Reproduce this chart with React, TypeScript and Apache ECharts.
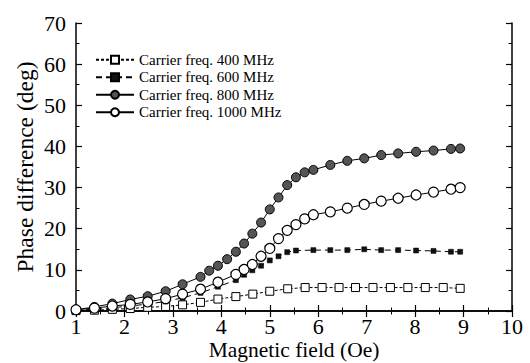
import React, { useEffect, useRef } from "react";
import * as echarts from "echarts";

// Magnetic field (Oe) and phase difference (deg) for each carrier frequency
const field400 = [1.0, 1.38, 1.75, 2.12, 2.48, 2.85, 3.2, 3.57, 3.93, 4.3, 4.65, 5.0, 5.37, 5.73, 6.08, 6.43, 6.77, 7.13, 7.49, 7.85, 8.21, 8.58, 8.93];
const phase400 = [0.1, 0.2, 0.4, 0.6, 0.9, 1.1, 1.5, 2.1, 2.9, 3.5, 4.1, 4.8, 5.4, 5.7, 5.7, 5.7, 5.7, 5.7, 5.7, 5.7, 5.7, 5.7, 5.5];

const field600 = [1.0, 1.38, 1.75, 2.12, 2.48, 2.85, 3.2, 3.57, 3.93, 4.3, 4.47, 4.64, 4.82, 5.0, 5.18, 5.36, 5.54, 5.9, 6.25, 6.6, 6.95, 7.3, 7.65, 8.02, 8.38, 8.74, 8.93];
const phase600 = [0.2, 0.4, 0.8, 1.2, 1.7, 2.3, 3.2, 4.4, 5.9, 7.5, 8.8, 9.9, 11.0, 12.3, 13.3, 14.3, 14.7, 14.8, 14.8, 14.8, 15.0, 14.8, 14.8, 14.7, 14.6, 14.4, 14.4];

const field800 = [1.0, 1.38, 1.75, 2.12, 2.48, 2.85, 3.2, 3.57, 3.75, 3.93, 4.12, 4.3, 4.47, 4.64, 4.82, 5.0, 5.18, 5.36, 5.54, 5.72, 5.9, 6.25, 6.6, 6.95, 7.3, 7.65, 8.02, 8.38, 8.74, 8.93];
const phase800 = [0.3, 1.0, 1.8, 2.8, 3.6, 4.8, 6.5, 8.3, 9.8, 11.0, 12.6, 14.4, 16.4, 18.8, 21.5, 24.7, 27.6, 30.6, 32.5, 33.7, 34.3, 35.5, 36.5, 37.1, 37.9, 38.3, 38.7, 39.0, 39.4, 39.5];

const field1000 = [1.0, 1.38, 1.75, 2.12, 2.48, 2.85, 3.2, 3.57, 3.93, 4.3, 4.47, 4.64, 4.82, 5.0, 5.18, 5.36, 5.54, 5.72, 5.9, 6.25, 6.6, 6.95, 7.3, 7.65, 8.02, 8.38, 8.74, 8.93];
const phase1000 = [0.3, 0.7, 1.2, 1.6, 2.2, 3.0, 4.1, 5.3, 7.0, 8.9, 10.1, 11.3, 13.3, 15.2, 17.6, 19.6, 21.0, 22.4, 23.4, 24.1, 25.0, 25.9, 26.7, 27.4, 28.2, 28.9, 29.6, 30.0];

const seriesNames = [
  "Carrier freq. 400 MHz",
  "Carrier freq. 600 MHz",
  "Carrier freq. 800 MHz",
  "Carrier freq. 1000 MHz",
];

const xTitle = "Magnetic field (Oe)";
const yTitle = "Phase difference (deg)";

const xMin = 1;
const xMax = 10;
const yMin = 0;
const yMax = 70;

const FONT = "Liberation Serif";

const pairs = (xs: number[], ys: number[]) => xs.map((x, i) => [x, ys[i]]);

export default function App() {
  const ref = useRef<HTMLDivElement>(null);

  useEffect(() => {
    if (!ref.current) return;
    const chart = echarts.init(ref.current, undefined, { renderer: "svg" });

    const axisLine = { show: true, lineStyle: { color: "#000", width: 1.5 } };
    const tick = { show: true, inside: true, length: 6, lineStyle: { color: "#000", width: 1.2 } };
    const minor = { show: true, splitNumber: 2, length: 3.5, lineStyle: { color: "#000", width: 1 } };
    const tickFont = { fontFamily: FONT, fontSize: 22, color: "#000" };
    const xNameFont = { fontFamily: FONT, fontSize: 21.5, color: "#000" };
    const yNameFont = { fontFamily: FONT, fontSize: 23.5, color: "#000" };

    chart.setOption({
      animation: false,
      backgroundColor: "#fff",
      textStyle: { fontFamily: FONT, color: "#000" },
      grid: { left: 76, right: 18, top: 23, bottom: 52, containLabel: false, outerBoundsMode: "none" },
      legend: {
        show: true,
        orient: "vertical",
        left: 95,
        top: 51,
        padding: 0,
        itemWidth: 38,
        itemHeight: 10,
        itemGap: 0,
        data: seriesNames,
        textStyle: { fontFamily: FONT, fontSize: 15, lineHeight: 17.5, color: "#000" },
      },
      xAxis: [
        {
          type: "value",
          min: xMin,
          max: xMax,
          interval: 1,
          position: "bottom",
          name: xTitle,
          nameLocation: "middle",
          nameGap: 28,
          nameMoveOverlap: false,
          nameTextStyle: xNameFont,
          axisLine,
          axisTick: tick,
          minorTick: minor,
          splitLine: { show: false },
          axisLabel: { ...tickFont, margin: 4 },
        },
        {
          type: "value",
          min: xMin,
          max: xMax,
          interval: 1,
          position: "top",
          axisLine,
          axisTick: tick,
          minorTick: minor,
          splitLine: { show: false },
          axisLabel: { show: false },
        },
      ],
      yAxis: [
        {
          type: "value",
          min: yMin,
          max: yMax,
          interval: 10,
          position: "left",
          name: yTitle,
          nameLocation: "middle",
          nameGap: 39,
          nameMoveOverlap: false,
          nameTextStyle: yNameFont,
          axisLine,
          axisTick: tick,
          minorTick: minor,
          splitLine: { show: false },
          axisLabel: { ...tickFont, margin: 10 },
        },
        {
          type: "value",
          min: yMin,
          max: yMax,
          interval: 10,
          position: "right",
          axisLine,
          axisTick: tick,
          minorTick: minor,
          splitLine: { show: false },
          axisLabel: { show: false },
        },
      ],
      series: [
        {
          name: seriesNames[0],
          type: "line",
          data: pairs(field400, phase400),
          symbol: "rect",
          symbolSize: 8,
          lineStyle: { color: "#000", width: 1, type: [3, 2] },
          itemStyle: { color: "#fff", borderColor: "#000", borderWidth: 1 },
        },
        {
          name: seriesNames[1],
          type: "line",
          data: pairs(field600, phase600),
          symbol: "rect",
          symbolSize: 5,
          lineStyle: { color: "#000", width: 1, type: [6, 4] },
          itemStyle: { color: "#111", borderColor: "#000", borderWidth: 0.5 },
        },
        {
          name: seriesNames[2],
          type: "line",
          data: pairs(field800, phase800),
          symbol: "circle",
          symbolSize: 9,
          lineStyle: { color: "#000", width: 1 },
          itemStyle: { color: "#555", borderColor: "#000", borderWidth: 1 },
        },
        {
          name: seriesNames[3],
          type: "line",
          data: pairs(field1000, phase1000),
          symbol: "circle",
          symbolSize: 10,
          lineStyle: { color: "#000", width: 1 },
          itemStyle: { color: "#fff", borderColor: "#000", borderWidth: 1.2 },
        },
      ],
    });

    return () => chart.dispose();
  }, []);

  return (
    <div
      ref={ref}
      style={{ position: "absolute", left: 0, top: 0, width: 530, height: 363, background: "#fff" }}
    />
  );
}
